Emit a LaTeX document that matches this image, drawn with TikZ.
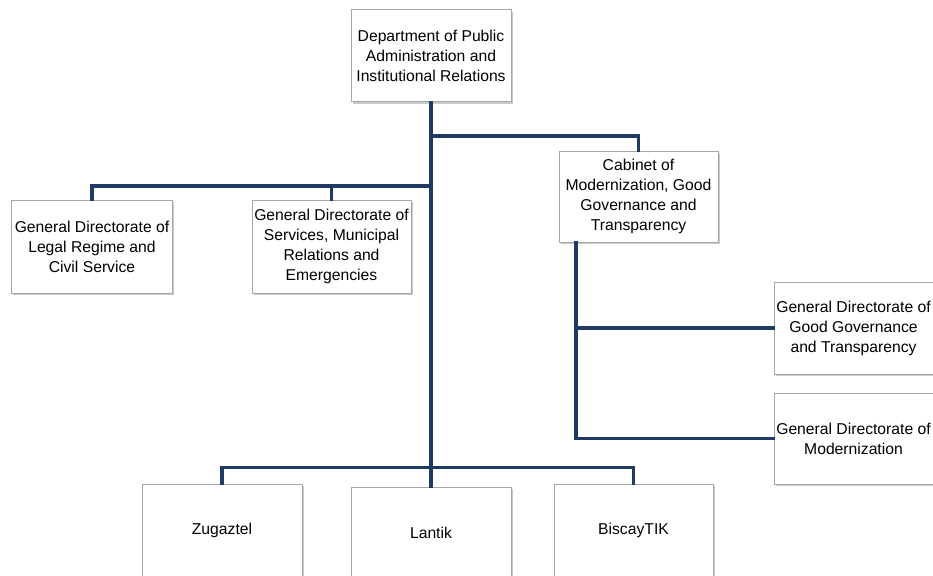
\documentclass[tikz,border=0pt]{standalone}
\usepackage{fontspec}
\setmainfont{Liberation Sans}
\usetikzlibrary{shadows}
\definecolor{navy}{HTML}{1F3A63}
\definecolor{boxline}{HTML}{A6A6A6}
\tikzset{
  orgbox/.style={draw=boxline, line width=1pt, fill=white, rectangle, inner sep=0pt,
    align=center, font=\fontsize{15.7}{20}\selectfont,
    drop shadow={shadow xshift=1.5pt, shadow yshift=-2pt, opacity=0.35, fill=black!60}},
  conn/.style={draw=navy, line width=3.2pt}
}
\begin{document}
\begin{tikzpicture}[x=1pt,y=-1pt]
\useasboundingbox (0,0) rectangle (933,575);
\clip (0,0) rectangle (933,575);
\fill[white] (0,0) rectangle (933,575);
% connectors first
\coordinate (j1) at (431,186);
\coordinate (j2) at (431,136);
\node[orgbox, minimum width=160pt, minimum height=92pt] (dept) at (431,56) {Department of Public\\Administration and\\Institutional Relations};
\node[orgbox, minimum width=161pt, minimum height=93pt] (legal) at (92,246.5) {General Directorate of\\Legal Regime and\\Civil Service};
\node[orgbox, minimum width=159pt, minimum height=93pt] (serv) at (331.5,246.5) {General Directorate of\\Services, Municipal\\Relations and\\Emergencies};
\node[orgbox, minimum width=159pt, minimum height=91pt] (cab) at (638.5,196.5) {Cabinet of\\Modernization, Good\\Governance and\\Transparency};
\node[orgbox, minimum width=159pt, minimum height=92pt] (gdgg) at (853.5,328) {General Directorate of\\Good Governance\\and Transparency};
\node[orgbox, minimum width=159pt, minimum height=91pt] (gdmod) at (853.5,438.5) {General Directorate of\\Modernization};
\node[orgbox, minimum width=160pt, minimum height=92pt] (zug) at (222,530) {Zugaztel};
\node[orgbox, minimum width=160pt, minimum height=92pt] (lan) at (431,533) {Lantik};
\node[orgbox, minimum width=159pt, minimum height=92pt] (bis) at (633.5,530) {BiscayTIK};
\coordinate (cout) at ([xshift=17.5pt]cab.south west);
\begin{scope}[line cap=rect]
\draw[conn] (dept.south) -- (lan.north);
\draw[conn] (legal.north) |- (j1);
\draw[conn] (serv.north) -- (serv.north |- j1);
\draw[conn] (j2) -| (cab.north);
\draw[conn] (zug.north) -- ++(0,-16) -| (bis.north);
\draw[conn] (cout) |- (gdmod.west);
\draw[conn] (gdgg.west) -- (gdgg.west -| cout);
\end{scope}
\end{tikzpicture}
\end{document}
